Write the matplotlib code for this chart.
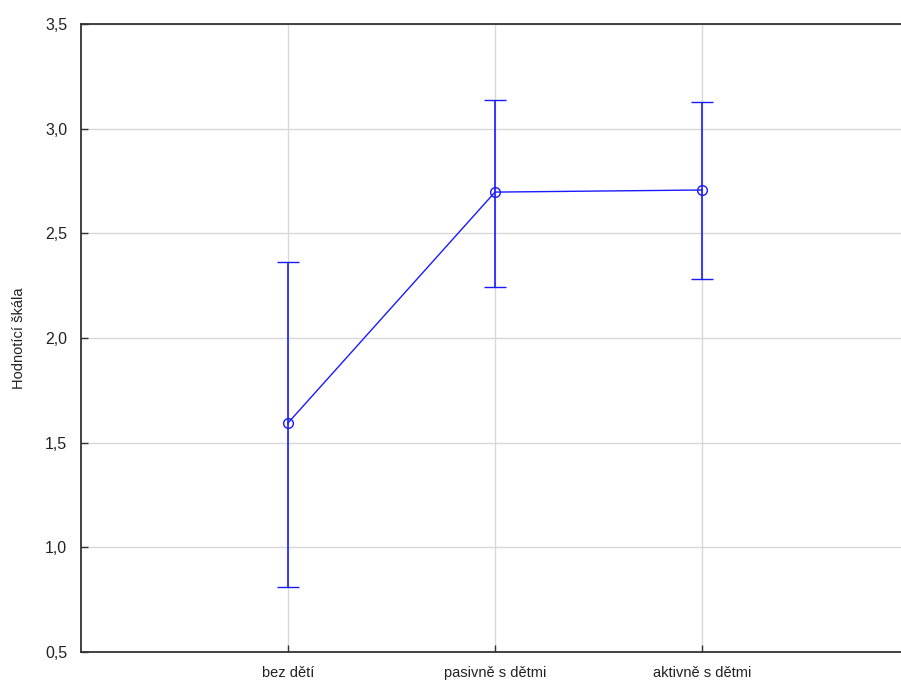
import matplotlib
matplotlib.use("Agg")
import matplotlib.pyplot as plt
import numpy as np

categories = ["bez dětí", "pasivně s dětmi", "aktivně s dětmi"]
means = [1.594, 2.697, 2.707]
upper = [2.363, 3.137, 3.127]
lower = [0.810, 2.243, 2.282]
yticks = [0.5, 1.0, 1.5, 2.0, 2.5, 3.0, 3.5]
ytick_labels = ["0,5", "1,0", "1,5", "2,0", "2,5", "3,0", "3,5"]

plt.rcParams['font.family'] = ['Liberation Sans', 'DejaVu Sans']

fig = plt.figure(figsize=(9.01, 6.87), dpi=100)
W, H = 901, 687
left, right, top, bottom = 81, 909, 24, 652
ax = fig.add_axes([left / W, 1 - bottom / H, (right - left) / W, (bottom - top) / H])

x = np.arange(1, len(categories) + 1)
m = np.array(means)
yerr = np.vstack([m - np.array(lower), np.array(upper) - m])
blue = "#1a1aff"
ax.errorbar(x, m, yerr=yerr, color=blue, lw=1, elinewidth=1.2, capsize=8, capthick=1.2,
            marker='o', markersize=7, markerfacecolor='none', markeredgecolor=blue, markeredgewidth=1)

ax.set_xlim(0, 4)
ax.set_ylim(0.5, 3.5)
ax.set_xticks(x)
ax.set_xticklabels(categories, fontsize=10.5, color='#222222')
ax.set_yticks(yticks)
ax.set_yticklabels(ytick_labels, fontsize=11.5, color='#222222')
ax.tick_params(direction='in', length=5, color='#333333', width=1, pad=10)
ax.tick_params(axis='x', pad=10)
ax.grid(True, color='#d8d8d8', lw=1)
ax.set_axisbelow(True)
for s in ['left', 'bottom', 'top']:
    ax.spines[s].set_color('#333333')
    ax.spines[s].set_linewidth(1.3)
ax.spines['right'].set_visible(False)
ax.set_ylabel("Hodnotící škála", fontsize=10.5, color='#222222')
ax.yaxis.set_label_coords((26 - left) / (right - left), 0.5)

fig.savefig("out.png", dpi=100)
